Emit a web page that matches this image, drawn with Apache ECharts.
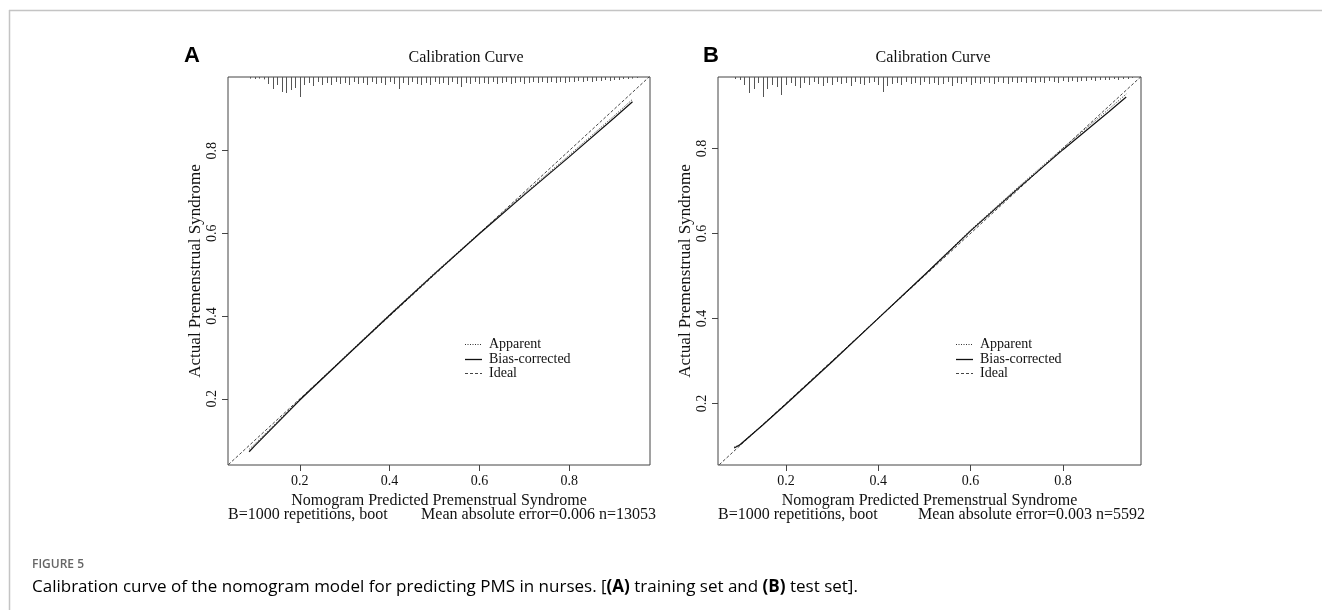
<!DOCTYPE html>
<html><head><meta charset="utf-8">
<script src="https://cdn.jsdelivr.net/npm/echarts@6/dist/echarts.min.js"></script>
<style>html,body{margin:0;padding:0;background:#fff}#c{width:1322px;height:610px}</style>
</head><body><div id="c"></div>
<script>
// ---- data ----
const tickValues = [0.2, 0.4, 0.6, 0.8];
const tickLabels = ['0.2', '0.4', '0.6', '0.8'];
const idealLine = [[0, 0], [1, 1]];

const calXA      = [0.087, 0.10, 0.15, 0.20, 0.30, 0.40, 0.50, 0.60, 0.70, 0.80, 0.90, 0.941];
const apparentA  = [0.078, 0.091, 0.145, 0.199, 0.302, 0.404, 0.504, 0.601, 0.696, 0.789, 0.884, 0.924];
const biasA      = [0.072, 0.087, 0.142, 0.197, 0.300, 0.402, 0.502, 0.599, 0.693, 0.785, 0.879, 0.918];

const calXB      = [0.088, 0.10, 0.15, 0.20, 0.30, 0.40, 0.50, 0.60, 0.70, 0.80, 0.90, 0.937];
const apparentB  = [0.097, 0.103, 0.150, 0.199, 0.299, 0.401, 0.503, 0.608, 0.706, 0.801, 0.893, 0.928];
const biasB      = [0.095, 0.102, 0.149, 0.198, 0.298, 0.400, 0.502, 0.606, 0.703, 0.797, 0.887, 0.921];

const rugX = [0.09,0.10,0.11,0.12,0.13,0.14,0.15,0.16,0.17,0.18,0.19,0.20,0.21,0.22,0.23,0.24,0.25,0.26,0.27,0.28,0.29,
  0.30,0.31,0.32,0.33,0.34,0.35,0.36,0.37,0.38,0.39,0.40,0.41,0.42,0.43,0.44,0.45,0.46,0.47,0.48,0.49,
  0.50,0.51,0.52,0.53,0.54,0.55,0.56,0.57,0.58,0.59,0.60,0.61,0.62,0.63,0.64,0.65,0.66,0.67,0.68,0.69,
  0.70,0.71,0.72,0.73,0.74,0.75,0.76,0.77,0.78,0.79,0.80,0.81,0.82,0.83,0.84,0.85,0.86,0.87,0.88,0.89,
  0.90,0.91,0.92,0.93,0.94,0.95];
const rugA = [8,10,8,12,35,60,40,75,80,65,55,100,40,30,45,25,40,30,40,25,35,
  30,40,25,35,30,40,25,35,30,40,25,35,60,30,40,25,35,40,30,40,
  25,35,30,40,25,35,50,30,35,25,35,30,35,25,35,30,25,35,30,25,
  35,30,25,30,25,30,25,30,25,30,25,25,20,25,20,25,20,20,15,20,
  15,15,10,10,8,5];
const rugB = [10,15,40,80,60,30,100,60,40,50,90,40,30,45,55,30,40,25,35,45,30,
  40,25,35,30,45,25,35,40,30,25,40,75,45,35,30,40,25,35,30,40,
  25,35,30,40,35,25,45,30,35,25,40,30,35,25,30,35,25,30,35,25,
  30,25,30,25,30,25,30,20,25,30,20,25,20,25,20,20,15,20,15,15,
  15,10,15,10,10,5];

const rangeA = { xmin: 0.04, xmax: 0.98, ymin: 0.04, ymax: 0.978 };
const rangeB = { xmin: 0.053, xmax: 0.969, ymin: 0.055, ymax: 0.968 };

// ---- chart ----
const SERIF = 'Liberation Serif';
const INK = '#111';
const fmt = v => { const i = tickValues.findIndex(t => Math.abs(t - v) < 1e-9); return i >= 0 ? tickLabels[i] : ''; };

function xAxisCfg(gi, r) {
  return {
    type: 'value', gridIndex: gi, min: r.xmin, max: r.xmax,
    axisLine: { show: false }, splitLine: { show: false },
    axisTick: { show: true, inside: false, length: 6, customValues: tickValues, lineStyle: { color: '#444', width: 1 } },
    axisLabel: { customValues: tickValues, formatter: fmt, margin: 9, color: INK, fontFamily: SERIF, fontSize: 14 },
    name: 'Nomogram Predicted Premenstrual Syndrome', nameLocation: 'middle', nameGap: 23,
    nameTextStyle: { fontFamily: SERIF, fontSize: 16, color: INK }
  };
}
function yAxisCfg(gi, r) {
  return {
    type: 'value', gridIndex: gi, min: r.ymin, max: r.ymax,
    axisLine: { show: false }, splitLine: { show: false },
    axisTick: { show: true, inside: false, length: 6, customValues: tickValues, lineStyle: { color: '#444', width: 1 } },
    axisLabel: { customValues: tickValues, formatter: fmt, rotate: 90, margin: 9, color: INK, fontFamily: SERIF, fontSize: 14 },
    name: 'Actual Premenstrual Syndrome', nameLocation: 'middle', nameRotate: 90, nameGap: 24,
    nameTextStyle: { fontFamily: SERIF, fontSize: 17, color: INK }
  };
}
function rugSeries(gi, vals) {
  return {
    type: 'custom', xAxisIndex: gi, yAxisIndex: gi, silent: true,
    encode: { x: 0 },
    data: rugX.map((x, i) => [x, vals[i]]),
    renderItem: (params, api) => {
      const px = Math.round(api.coord([api.value(0), 0.5])[0]) + 0.5;
      const top = params.coordSys.y;
      const len = api.value(1) / 100 * 20;
      return { type: 'line', shape: { x1: px, y1: top, x2: px, y2: top + len }, style: { stroke: '#555', lineWidth: 1 } };
    }
  };
}
function lineSeries(gi, xs, ys, style) {
  return {
    type: 'line', xAxisIndex: gi, yAxisIndex: gi, showSymbol: false, symbol: 'none', silent: true,
    data: xs.map((x, i) => [x, ys[i]]), lineStyle: style, z: 3
  };
}

function legendGraphics(x0) {
  const rows = [
    { label: 'Apparent', style: { stroke: '#333', lineWidth: 1, lineDash: [1, 1.5] } },
    { label: 'Bias-corrected', style: { stroke: '#111', lineWidth: 1.3 } },
    { label: 'Ideal', style: { stroke: '#444', lineWidth: 1, lineDash: [3, 2] } }
  ];
  const ys = [344, 359, 373];
  const out = [];
  rows.forEach((r, i) => {
    out.push({ type: 'line', shape: { x1: x0, y1: ys[i] + 0.5, x2: x0 + 17, y2: ys[i] + 0.5 }, style: r.style, silent: true });
    out.push({ type: 'text', x: x0 + 24, y: ys[i], style: { text: r.label, font: '14px "Liberation Serif"', fill: INK, verticalAlign: 'middle', textAlign: 'left' }, silent: true });
  });
  return out;
}

const chart = echarts.init(document.getElementById('c'), null, { renderer: 'canvas' });
chart.setOption({
  backgroundColor: '#fff',
  animation: false,
  title: [
    { text: 'Calibration Curve', left: 461, top: 45, textAlign: 'center', textStyle: { fontFamily: SERIF, fontSize: 16, fontWeight: 'normal', color: INK } },
    { text: 'Calibration Curve', left: 928, top: 45, textAlign: 'center', textStyle: { fontFamily: SERIF, fontSize: 16, fontWeight: 'normal', color: INK } }
  ],
  grid: [
    { left: 228, top: 77, width: 422, height: 388, show: true, borderColor: '#444', borderWidth: 1, backgroundColor: 'transparent' },
    { left: 718, top: 77, width: 423, height: 388, show: true, borderColor: '#444', borderWidth: 1, backgroundColor: 'transparent' }
  ],
  xAxis: [xAxisCfg(0, rangeA), xAxisCfg(1, rangeB)],
  yAxis: [yAxisCfg(0, rangeA), yAxisCfg(1, rangeB)],
  series: [
    rugSeries(0, rugA),
    lineSeries(0, idealLine.map(p => p[0]), idealLine.map(p => p[1]), { color: '#444', width: 1, type: [3, 2] }),
    lineSeries(0, calXA, apparentA, { color: '#333', width: 1, type: [1, 1.5] }),
    lineSeries(0, calXA, biasA, { color: '#111', width: 1.2, type: 'solid' }),
    rugSeries(1, rugB),
    lineSeries(1, idealLine.map(p => p[0]), idealLine.map(p => p[1]), { color: '#444', width: 1, type: [3, 2] }),
    lineSeries(1, calXB, apparentB, { color: '#333', width: 1, type: [1, 1.5] }),
    lineSeries(1, calXB, biasB, { color: '#111', width: 1.2, type: 'solid' })
  ],
  graphic: [
    { type: 'line', shape: { x1: 9, y1: 10.5, x2: 1322, y2: 10.5 }, style: { stroke: '#c4c4c4', lineWidth: 1.5 }, silent: true },
    { type: 'line', shape: { x1: 9.5, y1: 10, x2: 9.5, y2: 610 }, style: { stroke: '#c4c4c4', lineWidth: 1.5 }, silent: true },
    { type: 'text', x: 184, y: 56, style: { text: 'A', font: 'bold 22px "Liberation Sans"', fill: '#000', verticalAlign: 'middle' }, silent: true },
    { type: 'text', x: 703, y: 56, style: { text: 'B', font: 'bold 22px "Liberation Sans"', fill: '#000', verticalAlign: 'middle' }, silent: true },
    { type: 'text', x: 228, y: 515, style: { text: 'B=1000 repetitions, boot', font: '16px "Liberation Serif"', fill: INK, verticalAlign: 'middle', textAlign: 'left' }, silent: true },
    { type: 'text', x: 656, y: 515, style: { text: 'Mean absolute error=0.006 n=13053', font: '16px "Liberation Serif"', fill: INK, verticalAlign: 'middle', textAlign: 'right' }, silent: true },
    { type: 'text', x: 718, y: 515, style: { text: 'B=1000 repetitions, boot', font: '16px "Liberation Serif"', fill: INK, verticalAlign: 'middle', textAlign: 'left' }, silent: true },
    { type: 'text', x: 1145, y: 515, style: { text: 'Mean absolute error=0.003 n=5592', font: '16px "Liberation Serif"', fill: INK, verticalAlign: 'middle', textAlign: 'right' }, silent: true },
    ...legendGraphics(465),
    ...legendGraphics(956),
    { type: 'text', x: 32, y: 565, style: { text: 'FIGURE 5', font: '600 12px "Open Sans"', fill: '#666', verticalAlign: 'middle' }, silent: true },
    { type: 'text', x: 32, y: 587, silent: true, style: {
        text: '{n|Calibration curve of the nomogram model for predicting PMS in nurses. [}{b|(A)}{n| training set and }{b|(B)}{n| test set].}',
        verticalAlign: 'middle',
        rich: {
          n: { fontFamily: 'Open Sans', fontSize: 17, color: '#555' },
          b: { fontFamily: 'Open Sans', fontSize: 17, fontWeight: 'bold', color: '#333' }
        }
    } }
  ]
});
</script>
</body></html>
